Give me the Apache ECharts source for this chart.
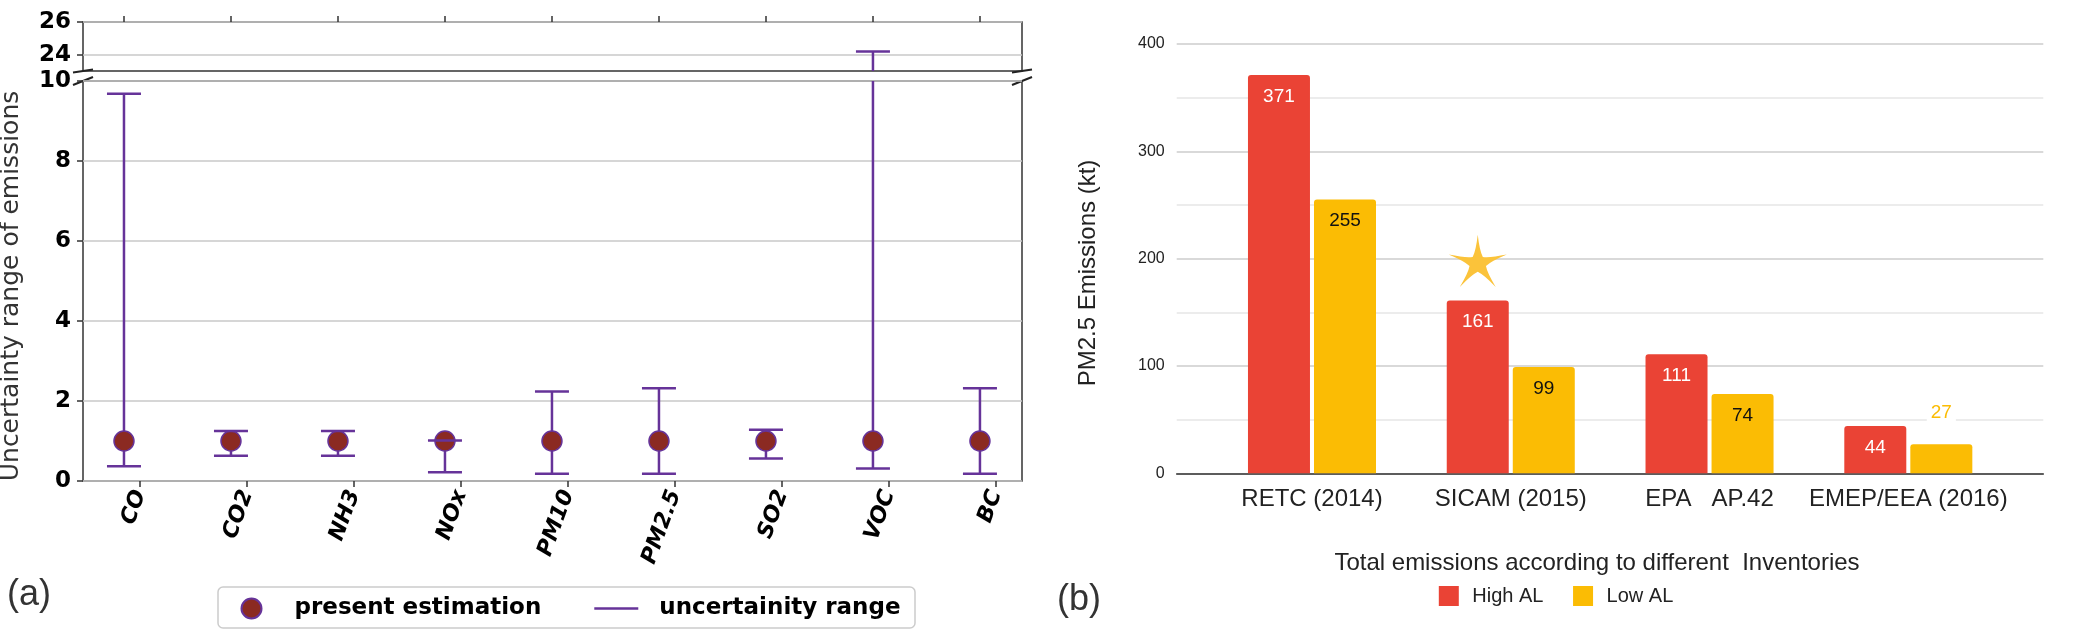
<!DOCTYPE html>
<html><head><meta charset="utf-8">
<script src="https://cdn.jsdelivr.net/npm/echarts@6/dist/echarts.min.js"></script>
<style>html,body{margin:0;padding:0;background:#fff}#c{width:2075px;height:639px}</style>
</head><body><div id="c"></div>
<script>
// ---------- data: panel (a) ----------
const pollutants = ['CO','CO2','NH3','NOx','PM10','PM2.5','SO2','VOC','BC'];
const presentEstimation = [1,1,1,1,1,1,1,1,1];
const uncertaintyLow  = [0.37,0.63,0.63,0.22,0.18,0.18,0.56,0.31,0.18];
const uncertaintyHigh = [9.68,1.25,1.25,1.01,2.24,2.32,1.28,24.2,2.32];
const lowerTicks = [0,2,4,6,8,10];
const upperTicks = [24,26];
// ---------- data: panel (b) ----------
const inventories = ['RETC (2014)','SICAM (2015)','EPA   AP.42','EMEP/EEA (2016)'];
const highAL = [371,161,111,44];
const lowAL  = [255,99,74,27];
const starAt = ['SICAM (2015)', 198];

// ---------- layout / style ----------
const LA = {left:83, right:1022, topT:22, botT:71, topB:81, botB:481};
const RB = {left:1176.7, right:2043.3, top:44, bottom:473.3, barLeft:1212.6, barRight:2007.7};
const W = 2075, H = 639;
const PURPLE = '#663399', DOT = '#8B2A22', RED = '#EA4335', YEL = '#FBBC04';
const XMIN = -0.383, XMAX = 8.393, TICKSHIFT = 0.15;
const UPPER_MIN = 23, UPPER_MAX = 26, LOWER_MAX = 10;
const tickIdx = pollutants.map((_, i) => i);

const errData = pollutants.map((_, i) => [i, uncertaintyLow[i], uncertaintyHigh[i]]);
const dotData = presentEstimation.map((v, i) => [i, v]);

function line(p0, p1) {
  return {type:'line', shape:{x1:p0[0], y1:p0[1], x2:p1[0], y2:p1[1]}, style:{stroke:PURPLE, lineWidth:2.5}};
}
function cap(p) { return line([p[0]-17, p[1]], [p[0]+17, p[1]]); }

function stemBottom(params, api) {
  const x = api.value(0), lo = api.value(1), hi = api.value(2);
  return line(api.coord([x, lo]), api.coord([x, Math.min(hi, LOWER_MAX)]));
}
function capsBottom(params, api) {
  const x = api.value(0), lo = api.value(1), hi = api.value(2);
  const ch = [cap(api.coord([x, lo]))];
  if (hi <= LOWER_MAX) ch.push(cap(api.coord([x, hi])));
  return {type:'group', children: ch};
}
function stemTop(params, api) {
  const x = api.value(0), hi = api.value(2);
  if (hi <= UPPER_MIN) return {type:'group', children: []};
  return {type:'group', children: [line(api.coord([x, UPPER_MIN]), api.coord([x, hi])), cap(api.coord([x, hi]))]};
}

// sparkle-like 5 point star with concave edges
function starPath(R, ri, pull) {
  const P = (rad, deg) => [rad*Math.cos(deg*Math.PI/180), rad*Math.sin(deg*Math.PI/180)];
  const f = p => p[0].toFixed(2) + ',' + p[1].toFixed(2);
  let d = '';
  for (let k = 0; k < 5; k++) {
    const a = -90 + 72 * k;
    const tip = P(R, a), inner = P(ri, a + 36), next = P(R, a + 72);
    const c1 = [(tip[0]+inner[0])/2*pull, (tip[1]+inner[1])/2*pull];
    const c2 = [(inner[0]+next[0])/2*pull, (inner[1]+next[1])/2*pull];
    if (k === 0) d += 'M' + f(tip);
    d += 'Q' + f(c1) + ' ' + f(inner) + 'Q' + f(c2) + ' ' + f(next);
  }
  return 'path://' + d + 'Z';
}

const fontA = 'DejaVu Sans', fontB = 'Liberation Sans';
const gridBorder = {show:true, borderColor:'#333', borderWidth:1.5, backgroundColor:'transparent'};
const noLine = {show:false, onZero:false};

const lowData = lowAL.map(v => v < 40 ? {
  value: v,
  label: {position:'top', distance: 20, color: YEL, backgroundColor:'#fff', padding:[2,4]}
} : v);

const option = {
  animation: false,
  backgroundColor: '#fff',
  grid: [
    Object.assign({left:LA.left, top:LA.topT, width:LA.right-LA.left, height:LA.botT-LA.topT}, gridBorder),
    Object.assign({left:LA.left, top:LA.topB, width:LA.right-LA.left, height:LA.botB-LA.topB}, gridBorder),
    {left:LA.left, top:LA.topB, width:LA.right-LA.left, height:LA.botB-LA.topB},
    {left:RB.left, top:RB.top, width:RB.right-RB.left, height:RB.bottom-RB.top},
    {left:RB.barLeft, top:RB.top, width:RB.barRight-RB.barLeft, height:RB.bottom-RB.top}
  ],
  xAxis: [
    {gridIndex:0, type:'value', min:XMIN, max:XMAX, position:'top',
     axisLine:noLine, splitLine:{show:false},
     axisTick:{show:true, customValues: tickIdx, length:6, lineStyle:{color:'#333', width:1.5}},
     axisLabel:{show:false}},
    {gridIndex:1, type:'value', min:XMIN, max:XMAX, position:'bottom',
     axisLine:noLine, splitLine:{show:false}, axisTick:{show:false}, axisLabel:{show:false}},
    {gridIndex:2, type:'value', min:XMIN-TICKSHIFT, max:XMAX-TICKSHIFT, position:'bottom',
     axisLine:noLine, splitLine:{show:false},
     axisTick:{show:true, customValues: tickIdx, length:6, lineStyle:{color:'#333', width:1.5}},
     axisLabel:{show:true, customValues: tickIdx, formatter: v => pollutants[Math.round(v)], rotate:70,
       fontFamily:fontA, fontWeight:'bold', fontStyle:'italic', fontSize:22, color:'#000', margin:10}},
    {gridIndex:3, type:'value', min:0, max:1,
     axisLine:{show:true, onZero:false, lineStyle:{color:'#333', width:1.5}}, axisTick:{show:false}, axisLabel:{show:false}, splitLine:{show:false}},
    {gridIndex:4, type:'category', data: inventories,
     axisLine:noLine, axisTick:{show:false},
     axisLabel:{interval:0, fontFamily:fontB, fontSize:24, color:'#222', margin:14}}
  ],
  yAxis: [
    {gridIndex:0, type:'value', min:UPPER_MIN, max:UPPER_MAX, axisLine:noLine,
     axisTick:{show:true, customValues: upperTicks, length:6, lineStyle:{color:'#333', width:1.5}},
     axisLabel:{customValues: upperTicks, fontFamily:fontA, fontWeight:'bold', fontSize:23, color:'#000', margin:12},
     splitLine:{show:true, lineStyle:{color:'#c8c8c8', width:1.5}}},
    {gridIndex:1, type:'value', min:0, max:LOWER_MAX, interval:2, axisLine:noLine,
     axisTick:{show:true, length:6, lineStyle:{color:'#333', width:1.5}},
     axisLabel:{fontFamily:fontA, fontWeight:'bold', fontSize:23, color:'#000', margin:12},
     splitLine:{show:true, lineStyle:{color:'#c8c8c8', width:1.5}}},
    {gridIndex:2, type:'value', min:0, max:LOWER_MAX, show:false, axisLine:noLine},
    {gridIndex:3, type:'value', min:0, max:400, interval:100, axisLine:noLine, axisTick:{show:false},
     axisLabel:{fontFamily:fontB, fontSize:16, color:'#222', margin:12},
     splitLine:{show:true, lineStyle:{color:'#cccccc', width:1.5}},
     minorTick:{show:false, splitNumber:2},
     minorSplitLine:{show:true, lineStyle:{color:'#e6e6e6', width:1.5}}},
    {gridIndex:4, type:'value', min:0, max:400, show:false, axisLine:noLine}
  ],
  legend: [
    {data:[{name:'present estimation', icon:'circle'}, {name:'uncertainity range', icon:'path://M0,0H44V2.5H0Z'}],
     left:240.5, top:597, padding:0, orient:'horizontal', itemWidth:44, itemHeight:20, itemGap:53,
     textStyle:{fontFamily:fontA, fontWeight:'bold', fontSize:23, color:'#000', padding:[0,0,0,16]}},
    {data:[{name:'High AL', icon:'rect'}, {name:'Low AL', icon:'rect'}],
     left:1438.8, top:586, padding:0, itemWidth:20, itemHeight:20, itemGap:29.6,
     textStyle:{fontFamily:fontB, fontSize:20, color:'#222', padding:[0,0,0,8.5]}}
  ],
  series: [
    {name:'uncertainity range', type:'custom', xAxisIndex:1, yAxisIndex:1, z:1, data: errData,
     renderItem: stemBottom, itemStyle:{color:PURPLE}},
    {name:'uncertainity range', type:'custom', xAxisIndex:0, yAxisIndex:0, z:1, data: errData,
     renderItem: stemTop, itemStyle:{color:PURPLE}},
    {name:'present estimation', type:'scatter', xAxisIndex:1, yAxisIndex:1, z:2, data: dotData,
     symbol:'circle', symbolSize:20, itemStyle:{color:DOT, borderColor:PURPLE, borderWidth:1.5, opacity:1}},
    {name:'uncertainity range', type:'custom', xAxisIndex:1, yAxisIndex:1, z:3, data: errData,
     renderItem: capsBottom, itemStyle:{color:PURPLE}},
    {name:'High AL', type:'bar', xAxisIndex:4, yAxisIndex:4, data: highAL, barWidth:62, barGap:'6.5%',
     itemStyle:{color:RED, borderRadius:[3,3,0,0]},
     label:{show:true, position:'insideTop', distance:12, color:'#fff', fontFamily:fontB, fontSize:19},
     markPoint:{symbol: starPath(30, 8.5, 0.72), symbolSize:[58, 55], symbolKeepAspect:true,
       itemStyle:{color:'#FBC33A'}, label:{show:false}, silent:true,
       data:[{coord: starAt}]}},
    {name:'Low AL', type:'bar', xAxisIndex:4, yAxisIndex:4, data: lowData, barWidth:62, barGap:'6.5%',
     itemStyle:{color:YEL, borderRadius:[3,3,0,0]},
     label:{show:true, position:'insideTop', distance:12, color:'#111', fontFamily:fontB, fontSize:19}}
  ],
  graphic: [
    {type:'rect', shape:{x:218, y:587, width:697, height:41, r:5}, style:{fill:'none', stroke:'#cccccc', lineWidth:1.5}, z:-1},
    {type:'text', x:11, y:286, rotation:Math.PI/2,
     style:{text:'Uncertainty range of emissions', font:'25px "DejaVu Sans"', fill:'#333', align:'center', verticalAlign:'middle'}},
    {type:'text', x:1088, y:273, rotation:Math.PI/2,
     style:{text:'PM2.5 Emissions (kt)', font:'24px "Liberation Sans"', fill:'#222', align:'center', verticalAlign:'middle'}},
    {type:'text', x:1597, y:563,
     style:{text:'Total emissions according to different  Inventories', font:'24px "Liberation Sans"', fill:'#222', align:'center', verticalAlign:'middle'}},
    {type:'text', x:29, y:595,
     style:{text:'(a)', font:'36px "Liberation Sans"', fill:'#333', align:'center', verticalAlign:'middle'}},
    {type:'text', x:1079, y:600,
     style:{text:'(b)', font:'36px "Liberation Sans"', fill:'#333', align:'center', verticalAlign:'middle'}},
    // axis break marks
    {type:'line', shape:{x1:LA.left-10, y1:LA.botT+1.5, x2:LA.left+10, y2:LA.botT-1.5}, style:{stroke:'#222', lineWidth:2}},
    {type:'line', shape:{x1:LA.left-10, y1:LA.topB+4, x2:LA.left+10, y2:LA.topB-4}, style:{stroke:'#222', lineWidth:2}},
    {type:'line', shape:{x1:LA.right-10, y1:LA.botT+1.5, x2:LA.right+10, y2:LA.botT-1.5}, style:{stroke:'#222', lineWidth:2}},
    {type:'line', shape:{x1:LA.right-10, y1:LA.topB+4, x2:LA.right+10, y2:LA.topB-4}, style:{stroke:'#222', lineWidth:2}}
  ]
};

const chart = echarts.init(document.getElementById('c'), null, {renderer:'canvas', width:W, height:H});
chart.setOption(option);
</script>
</body></html>
